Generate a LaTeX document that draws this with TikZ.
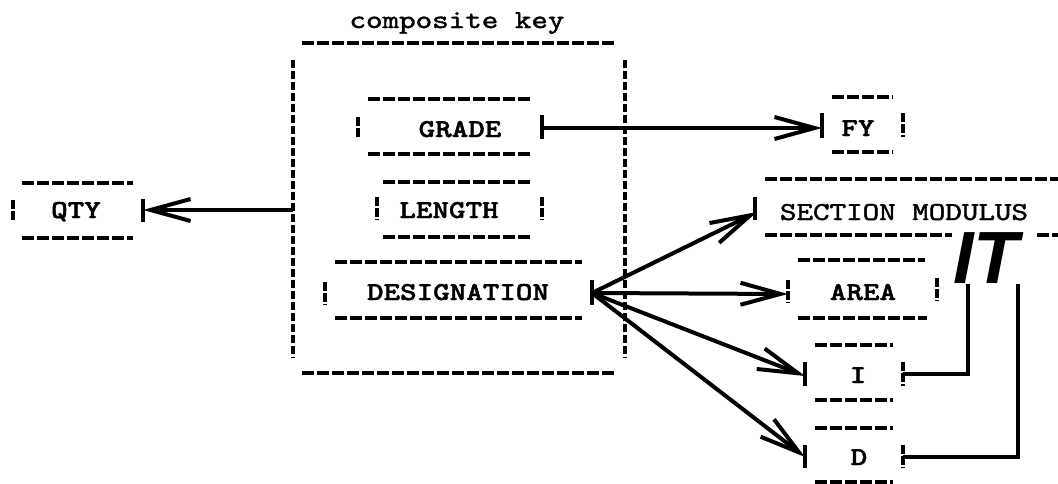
\documentclass[tikz,border=0pt]{standalone}
\usepackage{fontspec}
\usepackage{graphicx}
\newfontfamily\bigsans{Liberation Sans}
\newfontfamily\twbold{lmmonolt10-bold.otf}[FakeBold=1.5]
\newfontfamily\twreg{lmmono10-regular.otf}[FakeBold=1.5]
\usetikzlibrary{arrows.meta}
\newcommand{\tw}[1]{\scalebox{1}[0.82]{\twbold\fontsize{31.5}{31.5}\selectfont #1}}
\newcommand{\twr}[1]{\scalebox{1}[0.82]{\twreg\fontsize{31.5}{31.5}\selectfont #1}}
\tikzset{
  hdash/.style={line width=3.5pt, dash pattern=on 12pt off 3pt},
  vdash/.style={line width=3.5pt, dash pattern=on 8pt off 3pt},
  sidebar/.style={line width=3.5pt, dash pattern=on 9pt off 2pt},
  solidbar/.style={line width=3.5pt},
  conn/.style={line width=4pt, -{Straight Barb[length=40pt,width=22pt,line width=4pt]}},
  plain/.style={line width=4pt},
  lbl/.style={inner sep=0pt, anchor=base},
}
\begin{document}
\begin{tikzpicture}[x=1pt,y=-1pt]
\useasboundingbox (0,0) rectangle (1058,483);
% title
\node[lbl] (title) at (457,28) {\twr{composite key}};
% composite key box
\draw[hdash] (302,43) -- (615,43);
\draw[hdash] (302,373) -- (615,373);
\draw[vdash] (293,60) -- (293,358);
\draw[vdash] (625,60) -- (625,358);
\coordinate (ckL) at (293,210);
% GRADE
\node[lbl] (grade) at (460,137) {\tw{GRADE}};
\draw[hdash] (368,99) -- (530,99);
\draw[hdash] (368,154) -- (530,154);
\draw[sidebar] (358,117) -- (358,138);
\draw[solidbar] (542,115) -- (542,139);
\coordinate (gradeR) at (542,128);
% LENGTH
\node[lbl] (length) at (449,218) {\tw{LENGTH}};
\draw[hdash] (383,182) -- (530,182);
\draw[hdash] (383,237) -- (532,237);
\draw[sidebar] (377,197) -- (377,220);
\draw[sidebar] (542,197) -- (542,220);
% DESIGNATION
\node[lbl] (desig) at (458,300) {\tw{DESIGNATION}};
\draw[hdash] (335,262) -- (582,262);
\draw[hdash] (335,318) -- (582,318);
\draw[sidebar] (325,282) -- (325,305);
\draw[solidbar] (592,280) -- (592,305);
\coordinate (desigR) at (592,293);
% QTY
\node[lbl] (qty) at (76,218) {\tw{QTY}};
\draw[hdash] (22,183) -- (133,183);
\draw[hdash] (22,238) -- (133,238);
\draw[sidebar] (13,200) -- (13,221);
\draw[solidbar] (143,199) -- (143,222);
\coordinate (qtyR) at (143,210);
% FY
\node[lbl] (fy) at (858,136) {\tw{FY}};
\draw[hdash] (832,97) -- (893,97);
\draw[hdash] (832,152) -- (893,152);
\draw[solidbar] (822,113) -- (822,138);
\draw[sidebar] (903,113) -- (903,137);
\coordinate (fyL) at (822,128);
% SECTION MODULUS
\node[lbl] (secmod) at (904,220) {\twr{SECTION MODULUS}};
\draw[hdash] (765,179) -- (1058,179);
\draw[hdash] (765,235) -- (952,235);
\draw[hdash] (1037,235) -- (1058,235);
\draw[solidbar] (755,197) -- (755,220);
\coordinate (secmodL) at (757,212);
% AREA
\node[lbl] (area) at (863,300) {\tw{AREA}};
\draw[hdash] (798,260) -- (925,260);
\draw[hdash] (798,318) -- (927,318);
\draw[sidebar] (788,280) -- (788,303);
\draw[sidebar] (937,278) -- (937,301);
\coordinate (areaL) at (788,294);
% I
\node[lbl] (ibox) at (858,383) {\tw{I}};
\draw[hdash] (815,345) -- (893,345);
\draw[hdash] (815,400) -- (893,400);
\draw[solidbar] (805,362) -- (805,386);
\draw[sidebar] (903,362) -- (903,386);
\coordinate (iL) at (805,376);
\coordinate (iR) at (903,374);
% D
\node[lbl] (dbox) at (859,465) {\tw{D}};
\draw[hdash] (815,428) -- (893,428);
\draw[hdash] (815,482) -- (893,482);
\draw[solidbar] (805,445) -- (805,468);
\draw[sidebar] (903,445) -- (903,468);
\coordinate (dL) at (805,457);
\coordinate (dR) at (903,457);
% IT
\node[font=\bigsans\bfseries\itshape\fontsize{74}{74}\selectfont, inner sep=0pt, anchor=base west] (it) at (953,283) {IT};
\coordinate (itI) at (968,284);
\coordinate (itT) at (1018,284);
% connectors
\draw[conn] (ckL) -- (qtyR);
\draw[conn] (gradeR) -- (fyL);
\draw[conn] (desigR) -- (secmodL);
\draw[conn] (desigR) -- (areaL);
\draw[conn] (desigR) -- (iL);
\draw[conn] (desigR) -- (dL);
\draw[plain] (iR) -| (itI);
\draw[plain] (dR) -| (itT);
\end{tikzpicture}
\end{document}
